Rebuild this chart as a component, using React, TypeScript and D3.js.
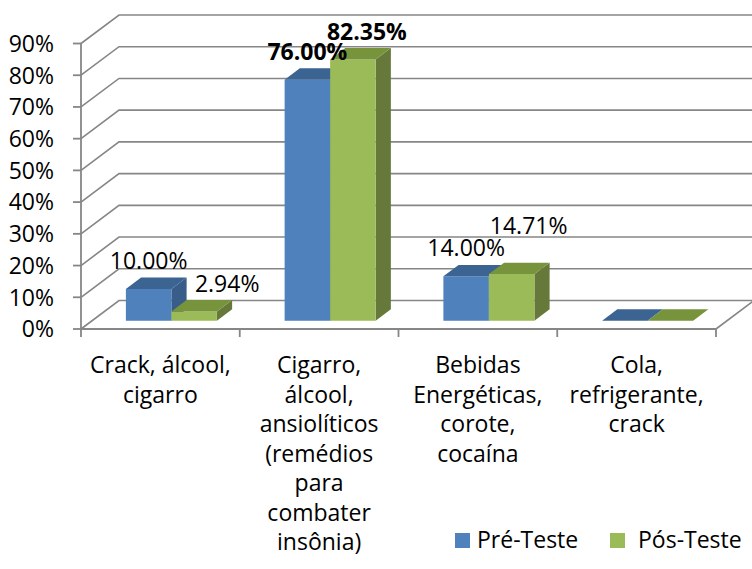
import { useMemo } from "react";
import * as d3 from "d3";

// chart data
const categories = [
  "Crack, álcool,\ncigarro",
  "Cigarro,\nálcool,\nansiolíticos\n(remédios\npara\ncombater\ninsônia)",
  "Bebidas\nEnergéticas,\ncorote,\ncocaína",
  "Cola,\nrefrigerante,\ncrack",
];
const seriesNames = ["Pré-Teste", "Pós-Teste"];
const preTeste = [0.1, 0.76, 0.14, 0];
const posTeste = [0.0294, 0.8235, 0.1471, 0];
const yTicks = [0, 0.1, 0.2, 0.3, 0.4, 0.5, 0.6, 0.7, 0.8, 0.9];

// layout
const W = 752;
const H = 569;
const plot = { left: 81, right: 716, top: 43.5, bottom: 329 };
const DEPTH_X = 38;
const DEPTH_Y = -28.5;
const BAR_FRONT = 0.29;
const BAR_BACK = 0.69;
const FONT = "'Open Sans', 'DejaVu Sans', sans-serif";
const FS = 23;

const colors = [
  { front: "#4f81bd", top: "#3b6492", side: "#385d89" },
  { front: "#9bbb59", top: "#77933c", side: "#66793a" },
];
const gridColor = "#868686";

// label nudges for the second series (excel moves them to avoid overlap)
const labelNudge = [
  [[0, 0], [0, 0], [0, 0], [0, 0]],
  [[33, 0], [14, 0], [17, -20], [0, 0]],
];
const boldCategory = 1;

const fmt = d3.format(".2%");

export default function App() {
  const x = useMemo(
    () => d3.scaleBand<string>().domain(categories).range([plot.left, plot.right]),
    []
  );
  const xs = useMemo(
    () =>
      d3
        .scaleBand<string>()
        .domain(seriesNames)
        .range([0, x.bandwidth()])
        .paddingInner(0)
        .paddingOuter(0.744),
    [x]
  );
  const y = useMemo(
    () => d3.scaleLinear().domain([0, 0.9]).range([plot.bottom, plot.top]),
    []
  );

  const p = (xf: number, v: number, d: number) =>
    [xf + DEPTH_X * d, y(v) + DEPTH_Y * d] as [number, number];
  const poly = (pts: [number, number][]) => "M" + pts.map((q) => q.join(",")).join("L") + "Z";

  const values = [preTeste, posTeste];

  const bars: JSX.Element[] = [];
  const labels: JSX.Element[] = [];
  categories.forEach((cat, i) => {
    seriesNames.forEach((s, si) => {
      const v = values[si][i];
      const x0 = (x(cat) as number) + (xs(s) as number);
      const x1 = x0 + xs.bandwidth();
      const c = colors[si];
      bars.push(
        <g key={`${i}-${si}`}>
          <path
            d={poly([p(x1, 0, BAR_FRONT), p(x1, 0, BAR_BACK), p(x1, v, BAR_BACK), p(x1, v, BAR_FRONT)])}
            fill={c.side}
          />
          <path
            d={poly([p(x0, 0, BAR_FRONT), p(x1, 0, BAR_FRONT), p(x1, v, BAR_FRONT), p(x0, v, BAR_FRONT)])}
            fill={c.front}
          />
          <path
            d={poly([p(x0, v, BAR_FRONT), p(x1, v, BAR_FRONT), p(x1, v, BAR_BACK), p(x0, v, BAR_BACK)])}
            fill={c.top}
          />
        </g>
      );
      if (v > 0) {
        const [cx] = p((x0 + x1) / 2, v, BAR_FRONT);
        const [, by] = p(x0, v, BAR_BACK);
        const [nx, ny] = labelNudge[si][i];
        labels.push(
          <text
            key={`l${i}-${si}`}
            x={cx + nx}
            y={by - 8.5 + ny}
            textAnchor="middle"
            fontWeight={i === boldCategory ? 700 : 400}
          >
            {fmt(v)}
          </text>
        );
      }
    });
  });

  const wallRight = plot.right + DEPTH_X;

  return (
    <>
      <style>{`body{margin:0}`}</style>
      <svg width={W} height={H} style={{ display: "block", background: "#fff" }} fontFamily={FONT} fontSize={FS}>
        {/* side wall + back wall gridlines */}
        <g fill="none" stroke={gridColor} strokeWidth={1.6}>
          {yTicks.map((t) => (
            <path
              key={t}
              d={`M${plot.left},${y(t)}L${plot.left + DEPTH_X},${y(t) + DEPTH_Y}L${wallRight},${y(t) + DEPTH_Y}`}
            />
          ))}
          <path d={`M${plot.right},${plot.bottom}L${wallRight},${plot.bottom + DEPTH_Y}`} />
        </g>

        {bars}

        {/* axes */}
        <g stroke={gridColor} strokeWidth={1.8} fill="none">
          <line x1={plot.left} x2={plot.left} y1={y(0.9)} y2={plot.bottom} />
          <line x1={plot.left} x2={plot.right} y1={plot.bottom} y2={plot.bottom} />
          {yTicks.map((t) => (
            <line key={t} x1={plot.left - 8} x2={plot.left} y1={y(t)} y2={y(t)} />
          ))}
          {[...categories.map((c) => x(c) as number), plot.right].map((xv, k) => (
            <line key={k} x1={xv} x2={xv} y1={plot.bottom} y2={plot.bottom + 8} />
          ))}
        </g>

        {/* y tick labels */}
        <g textAnchor="end" fill="#000">
          {yTicks.map((t) => (
            <text key={t} x={54} y={y(t)} dy="0.36em">
              {d3.format(".0%")(t)}
            </text>
          ))}
        </g>

        {/* category labels */}
        <g textAnchor="middle" fill="#000">
          {categories.map((c) => (
            <text key={c} x={(x(c) as number) + x.bandwidth() / 2} y={plot.bottom + 44}>
              {c.split("\n").map((line, k) => (
                <tspan key={k} x={(x(c) as number) + x.bandwidth() / 2} dy={k === 0 ? 0 : 29.5}>
                  {line}
                </tspan>
              ))}
            </text>
          ))}
        </g>

        <g fill="#000">{labels}</g>

        {/* legend */}
        <g>
          {seriesNames.map((s, si) => {
            const lx = si === 0 ? 455 : 610;
            return (
              <g key={s}>
                <rect x={lx} y={533} width={15} height={15} fill={colors[si].front} />
                <text x={lx + (si === 0 ? 22 : 28)} y={548} fill="#000">
                  {s}
                </text>
              </g>
            );
          })}
        </g>
      </svg>
    </>
  );
}
